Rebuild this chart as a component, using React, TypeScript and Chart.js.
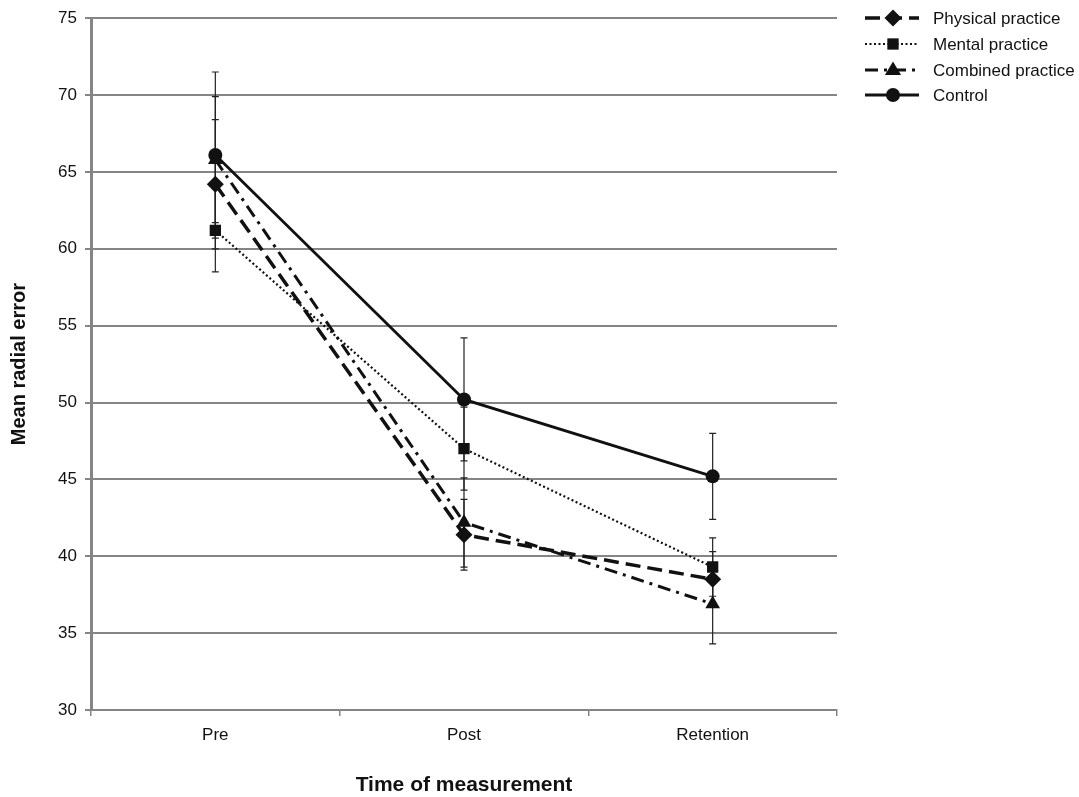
import React, { useEffect, useRef } from "react";
import { Chart, registerables } from "chart.js";

Chart.register(...registerables);

const categories = ["Pre", "Post", "Retention"];
const seriesNames = ["Physical practice", "Mental practice", "Combined practice", "Control"];
const physical = [64.2, 41.4, 38.5];
const mental = [61.2, 47.0, 39.3];
const combined = [65.8, 42.2, 36.9];
const control = [66.1, 50.2, 45.2];
const physicalErr = [4.2, 2.3, 1.8];
const mentalErr = [2.7, 2.7, 1.9];
const combinedErr = [4.1, 2.9, 2.6];
const controlErr = [5.4, 4.0, 2.8];
const yTicks = [30, 35, 40, 45, 50, 55, 60, 65, 70, 75];

const INK = "#111111";
const GRID = "#858585";
const SANS = "'Liberation Sans', Arial, sans-serif";

function drawMarker(ctx: CanvasRenderingContext2D, style: string, r: number, x: number, y: number) {
  ctx.beginPath();
  if (style === "circle") {
    ctx.arc(x, y, r, 0, Math.PI * 2);
  } else if (style === "rect") {
    const s = r * Math.SQRT1_2;
    ctx.rect(x - s, y - s, 2 * s, 2 * s);
  } else if (style === "rectRot") {
    ctx.moveTo(x, y - r);
    ctx.lineTo(x + r, y);
    ctx.lineTo(x, y + r);
    ctx.lineTo(x - r, y);
    ctx.closePath();
  } else if (style === "triangle") {
    ctx.moveTo(x, y - r);
    ctx.lineTo(x + r * 0.95, y + r * 0.6);
    ctx.lineTo(x - r * 0.95, y + r * 0.6);
    ctx.closePath();
  }
  ctx.fill();
}

const errorBarPlugin = {
  id: "errorBars",
  beforeDatasetsDraw(chart: any) {
    const { ctx, scales } = chart;
    const x = scales.x;
    const y = scales.y;
    ctx.save();
    ctx.strokeStyle = "#222";
    ctx.lineWidth = 1.2;
    chart.data.datasets.forEach((ds: any) => {
      ds.data.forEach((v: number, i: number) => {
        const e = ds.errors[i];
        const px = x.getPixelForValue(i);
        const top = y.getPixelForValue(v + e);
        const bot = y.getPixelForValue(v - e);
        ctx.beginPath();
        ctx.moveTo(px, top);
        ctx.lineTo(px, bot);
        ctx.moveTo(px - 3.5, top);
        ctx.lineTo(px + 3.5, top);
        ctx.moveTo(px - 3.5, bot);
        ctx.lineTo(px + 3.5, bot);
        ctx.stroke();
      });
    });
    ctx.restore();
  },
};

const legendPlugin = {
  id: "customLegend",
  afterDraw(chart: any) {
    const { ctx } = chart;
    ctx.save();
    const x0 = 865;
    const x1 = 919;
    const xm = 893;
    const rows = [18, 44, 70, 95];
    chart.data.datasets.forEach((ds: any, i: number) => {
      const yy = rows[i];
      ctx.strokeStyle = INK;
      ctx.fillStyle = INK;
      ctx.lineWidth = ds.borderWidth;
      ctx.setLineDash(ds.borderDash || []);
      ctx.beginPath();
      ctx.moveTo(x0, yy);
      ctx.lineTo(x1, yy);
      ctx.stroke();
      ctx.setLineDash([]);
      drawMarker(ctx, ds.pointStyle, ds.pointRadius, xm, yy);
      ctx.font = `17px ${SANS}`;
      ctx.textBaseline = "middle";
      ctx.textAlign = "left";
      ctx.fillText(ds.label, 933, yy + 1);
    });
    ctx.restore();
  },
};

export default function App() {
  const ref = useRef<HTMLCanvasElement | null>(null);
  useEffect(() => {
    if (!ref.current) return;
    const common = {
      borderColor: INK,
      backgroundColor: INK,
      pointBackgroundColor: INK,
      pointBorderColor: INK,
      pointBorderWidth: 0,
      tension: 0,
      fill: false,
    };
    const chart = new Chart(ref.current, {
      type: "line",
      data: {
        labels: categories,
        datasets: [
          { ...common, label: seriesNames[0], data: physical, errors: physicalErr, borderWidth: 3.5, borderDash: [15, 7], pointStyle: "rectRot", pointRadius: 8.5 } as any,
          { ...common, label: seriesNames[1], data: mental, errors: mentalErr, borderWidth: 2.2, borderDash: [2, 2.5], pointStyle: "rect", pointRadius: 8 } as any,
          { ...common, label: seriesNames[2], data: combined, errors: combinedErr, borderWidth: 3, borderDash: [13, 6, 3, 6], pointStyle: "triangle", pointRadius: 8.5 } as any,
          { ...common, label: seriesNames[3], data: control, errors: controlErr, borderWidth: 2.8, borderDash: [], pointStyle: "circle", pointRadius: 7 } as any,
        ],
      },
      options: {
        responsive: false,
        animation: false,
        events: [],
        layout: { padding: { left: 0, right: 242, top: 17, bottom: 0 } },
        plugins: {
          legend: { display: false },
          tooltip: { enabled: false },
        },
        scales: {
          x: {
            type: "category",
            offset: true,
            afterFit: (s: any) => {
              s.height = 87;
            },
            grid: {
              offset: true,
              drawOnChartArea: false,
              drawTicks: true,
              tickLength: 6,
              color: GRID,
              lineWidth: 1.5,
            },
            border: { display: true, color: GRID, width: 2 },
            ticks: {
              color: INK,
              font: { family: SANS, size: 17 },
              padding: 9,
            },
            title: {
              display: true,
              text: "Time of measurement",
              color: INK,
              font: { family: SANS, size: 21, weight: "bold", lineHeight: 1 },
              padding: { top: 0, bottom: 1 },
            },
          },
          y: {
            min: 30,
            max: 75,
            afterFit: (s: any) => {
              s.width = 91;
            },
            afterBuildTicks: (s: any) => {
              s.ticks = yTicks.map((v) => ({ value: v }));
            },
            grid: {
              color: GRID,
              lineWidth: 2,
              drawTicks: true,
              tickLength: 6,
            },
            border: { display: true, color: GRID, width: 3 },
            ticks: {
              color: INK,
              font: { family: SANS, size: 17 },
              padding: 8,
            },
            title: {
              display: true,
              text: "Mean radial error",
              color: INK,
              font: { family: SANS, size: 20, weight: "bold", lineHeight: 1.2 },
              padding: { top: 7, bottom: 0 },
            },
          },
        },
      } as any,
      plugins: [errorBarPlugin, legendPlugin],
    });
    return () => chart.destroy();
  }, []);
  return (
    <div style={{ position: "fixed", left: 0, top: 0, width: 1079, height: 797, background: "#fff" }}>
      <canvas ref={ref} width={1079} height={797} style={{ display: "block" }} />
    </div>
  );
}
